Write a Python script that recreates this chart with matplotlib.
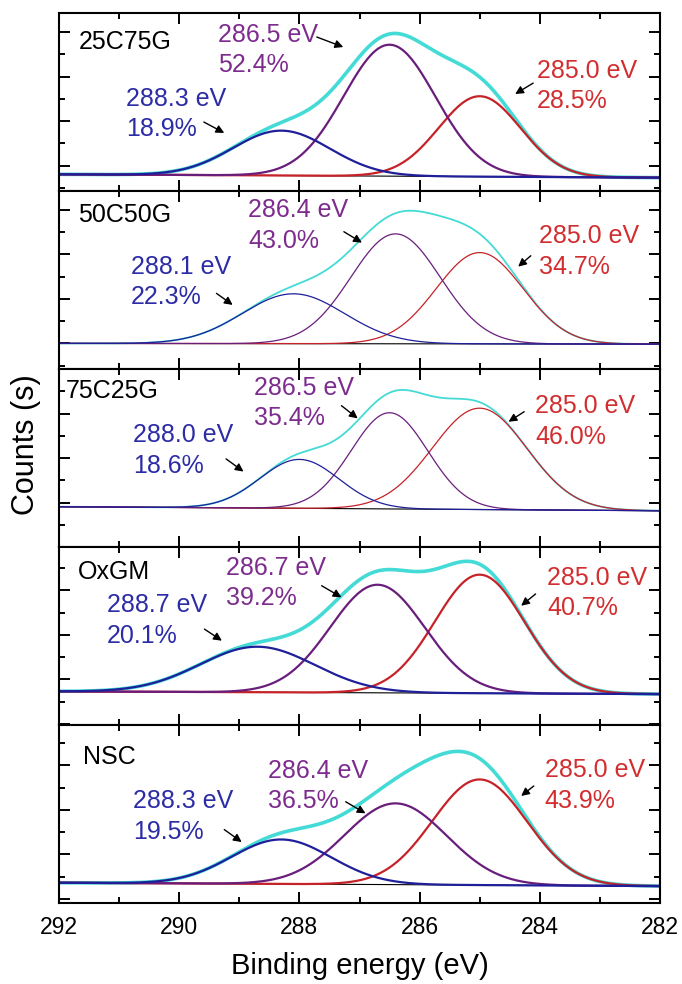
import numpy as np
import matplotlib.pyplot as plt
from matplotlib.ticker import MultipleLocator, NullFormatter

plt.rcParams['font.family'] = ['Liberation Sans', 'DejaVu Sans']

# C 1s fits, one row per sample (top to bottom)
samples = ["25C75G", "50C50G", "75C25G", "OxGM", "NSC"]
pos_cc = [285.0, 285.0, 285.0, 285.0, 285.0]
pos_co = [286.5, 286.4, 286.5, 286.7, 286.4]
pos_oco = [288.3, 288.1, 288.0, 288.7, 288.3]
pct_cc = [28.5, 34.7, 46.0, 40.7, 43.9]
pct_co = [52.4, 43.0, 35.4, 39.2, 36.5]
pct_oco = [18.9, 22.3, 18.6, 20.1, 19.5]
fwhm_cc = [1.60, 1.70, 1.85, 1.75, 1.85]
fwhm_co = [1.80, 1.75, 1.50, 1.85, 2.00]
fwhm_oco = [1.90, 2.00, 1.55, 2.25, 1.95]
total_area = [21.6, 21.4, 19.5, 24.4, 21.3]
bg_high = [0.75, 1.15, 1.81, 1.51, 0.91]   # background at 292 eV
bg_low = [0.60, 1.12, 1.63, 1.39, 0.76]    # background at 282 eV

# label placement: (x, y) of text, arrow tail, arrow tip
name_xy = [(291.67, 6.70), (291.69, 6.92), (291.89, 7.03), (291.69, 6.86), (291.6, 6.56)]
lab_co = [(289.35, 6.34), (288.85, 6.44), (288.75, 6.47), (289.22, 6.38), (288.53, 5.26)]
lab_oco = [(290.89, 3.46), (290.81, 3.91), (290.77, 4.34), (291.2, 4.69), (290.77, 3.89)]
lab_cc = [(284.05, 4.72), (284.01, 5.28), (284.08, 5.64), (283.88, 5.93), (283.92, 5.27)]
arr_co = [((287.71, 6.92), (287.27, 6.47)), ((287.26, 6.17), (286.96, 5.68)),
          ((287.3, 6.35), (287.03, 5.78)), ((287.63, 6.26), (287.3, 5.74)),
          ((287.23, 4.55), (286.9, 4.03))]
arr_oco = [((289.59, 3.10), (289.25, 2.61)), ((289.38, 3.40), (289.11, 2.88)),
           ((289.22, 3.96), (288.93, 3.39)), ((289.58, 4.31), (289.29, 3.79)),
           ((289.25, 3.3), (288.96, 2.74))]
arr_cc = [((284.11, 4.85), (284.41, 4.36)), ((284.15, 5.09), (284.36, 4.6)),
          ((284.26, 6.08), (284.52, 5.63)), ((284.07, 5.89), (284.31, 5.36)),
          ((284.1, 5.26), (284.31, 4.81))]
tick_offset = [1.14, 1.15, 0.0, 0.05, 0.18]
thin = [False, True, True, False, False]

c_env = '#44dbd6'
c_blue, c_purple, c_red = '#1f1f9a', '#6a1e7c', '#c62228'
t_blue, t_purple, t_red = '#2c2ca6', '#7d2c8e', '#d22e30'

energy = np.linspace(292, 282, 800)


def gauss(x, area, center, fwhm):
    s = fwhm / 2.3548
    return area / (s * np.sqrt(2 * np.pi)) * np.exp(-0.5 * ((x - center) / s) ** 2)


fig = plt.figure(figsize=(6.82, 9.84), dpi=100)
gs = fig.add_gridspec(5, 1, left=59 / 682, right=660 / 682,
                      top=1 - 13 / 984, bottom=1 - 903 / 984, hspace=0)
axes = [fig.add_subplot(gs[i]) for i in range(5)]

for i, ax in enumerate(axes):
    bg = bg_high[i] + (bg_low[i] - bg_high[i]) * (292 - energy) / 10
    T = total_area[i]
    g_oco = gauss(energy, T * pct_oco[i] / 100, pos_oco[i], fwhm_oco[i])
    g_co = gauss(energy, T * pct_co[i] / 100, pos_co[i], fwhm_co[i])
    g_cc = gauss(energy, T * pct_cc[i] / 100, pos_cc[i], fwhm_cc[i])
    env = bg + g_oco + g_co + g_cc

    lw_c = 0.9 if thin[i] else 1.6
    lw_e = 1.3 if thin[i] else 2.6
    ax.plot(energy, bg, color='black', lw=0.8)
    ax.plot(energy, bg + g_cc, color=c_red, lw=lw_c)
    ax.plot(energy, bg + g_co, color=c_purple, lw=lw_c)
    ax.plot(energy, bg + g_oco, color=c_blue, lw=lw_c)
    ax.plot(energy, env, color=c_env, lw=lw_e, zorder=1)

    ax.text(*name_xy[i], samples[i], fontsize=18, color='black', ha='left', va='center')
    for (xy, col, pos, pct, arr) in [
            (lab_co[i], t_purple, pos_co[i], pct_co[i], arr_co[i]),
            (lab_oco[i], t_blue, pos_oco[i], pct_oco[i], arr_oco[i]),
            (lab_cc[i], t_red, pos_cc[i], pct_cc[i], arr_cc[i])]:
        ax.text(*xy, f"{pos:.1f} eV\n{pct:.1f}%", fontsize=18, color=col,
                ha='left', va='center', linespacing=1.35)
        ax.annotate('', xy=arr[1], xytext=arr[0],
                    arrowprops=dict(arrowstyle='-|>', color='black', lw=1.0,
                                    mutation_scale=12, shrinkA=0, shrinkB=0))

    ax.set_xlim(292, 282)
    ax.set_ylim(0, 8)
    ax.xaxis.set_major_locator(MultipleLocator(2))
    ax.xaxis.set_minor_locator(MultipleLocator(1))
    ax.yaxis.set_major_locator(MultipleLocator(2, offset=tick_offset[i]))
    ax.yaxis.set_minor_locator(MultipleLocator(2, offset=tick_offset[i] + 1))
    ax.yaxis.set_major_formatter(NullFormatter())
    ax.tick_params(which='both', direction='in', top=True, right=True, width=1.4)
    ax.tick_params(which='major', length=8)
    ax.tick_params(which='minor', length=4.5)
    ax.tick_params(axis='x', labelsize=16.5, pad=9)
    for sp in ax.spines.values():
        sp.set_linewidth(1.5)
    if i < 4:
        ax.set_xticklabels([])

fig.text(26 / 682, 1 - 445 / 984, 'Counts (s)', rotation=90, fontsize=22,
         ha='center', va='center')
fig.text(0.5 * (59 + 660) / 682, 1 - 966 / 984, 'Binding energy (eV)', fontsize=21,
         ha='center', va='center')

fig.savefig('out.png', dpi=100)
